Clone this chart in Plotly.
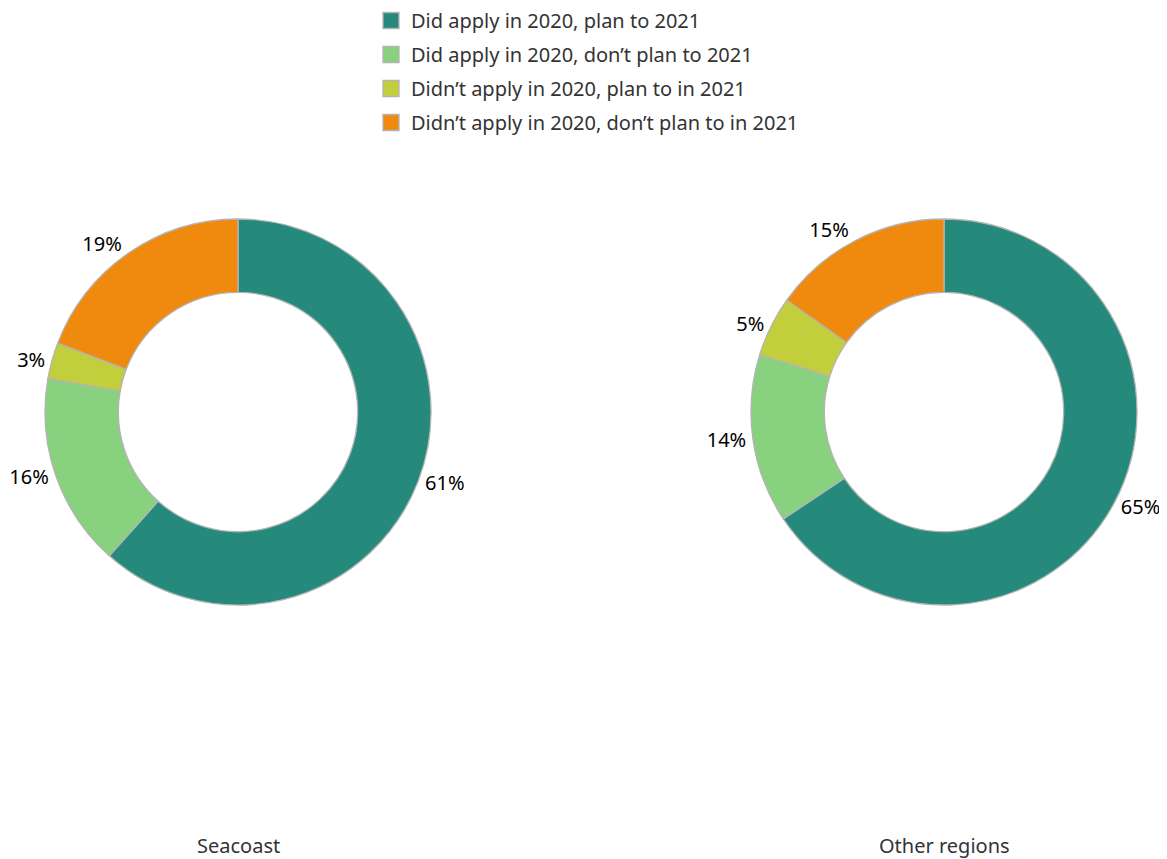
import plotly.graph_objects as go

categories = [
    "Did apply in 2020, plan to 2021",
    "Did apply in 2020, don\u2019t plan to 2021",
    "Didn\u2019t apply in 2020, plan to in 2021",
    "Didn\u2019t apply in 2020, don\u2019t plan to in 2021",
]
seacoast = [61, 16, 3, 19]
other_regions = [65, 14, 5, 15]
region_titles = ["Seacoast", "Other regions"]
colors = ["#258A7C", "#88D17F", "#C2CE3C", "#F08A0F"]

# page body has an 8px margin, so figure coords = page coords - 8
OFF = 8
W, H = 1167 - OFF, 859 - OFF
R = 193
cy = 412 - OFF
centers = [238 - OFF, 944 - OFF]

def dom(cx):
    return dict(x=[(cx - R) / W, (cx + R) / W], y=[1 - (cy + R) / H, 1 - (cy - R) / H])

FONT = "Noto Sans"
FS = 20

fig = go.Figure()
for i, vals in enumerate([seacoast, other_regions]):
    fig.add_trace(go.Pie(
        labels=categories,
        values=vals,
        sort=False,
        direction="clockwise",
        rotation=0,
        hole=0.62,
        domain=dom(centers[i]),
        marker=dict(colors=colors, line=dict(color="#B4B4B4", width=1.3)),
        textposition="outside",
        texttemplate="%{value}%",
        textfont=dict(family=FONT, size=FS, color="#000000"),
        showlegend=False,
        hoverinfo="label+value",
        name=region_titles[i],
    ))

# legend entries (one per category)
for cat, col in zip(categories, colors):
    fig.add_trace(go.Scatter(
        x=[None], y=[None], mode="markers", name=cat, legendgroup=cat,
        marker=dict(symbol="square", size=20, color=col, line=dict(color="#B4B4B4", width=1.3)),
        showlegend=True, hoverinfo="skip",
    ))

for i, t in enumerate(region_titles):
    fig.add_annotation(
        x=centers[i] / W, y=1 - (845 - OFF) / H, xref="paper", yref="paper",
        text=t, showarrow=False, xanchor="center", yanchor="middle",
        font=dict(family=FONT, size=FS, color="#333333"),
    )

fig.update_layout(
    width=W, height=H,
    margin=dict(l=0, r=0, t=0, b=0, autoexpand=False),
    paper_bgcolor="white",
    plot_bgcolor="white",
    font=dict(family=FONT, size=FS, color="#333333"),
    xaxis=dict(visible=False),
    yaxis=dict(visible=False),
    legend=dict(
        x=(371 - OFF) / W, y=1 + 7 / H, xanchor="left", yanchor="top",
        font=dict(family=FONT, size=FS, color="#333333"),
        traceorder="grouped",
        tracegroupgap=5,
        itemsizing="trace",
        bgcolor="rgba(0,0,0,0)",
    ),
)

fig.write_html("out.html")
